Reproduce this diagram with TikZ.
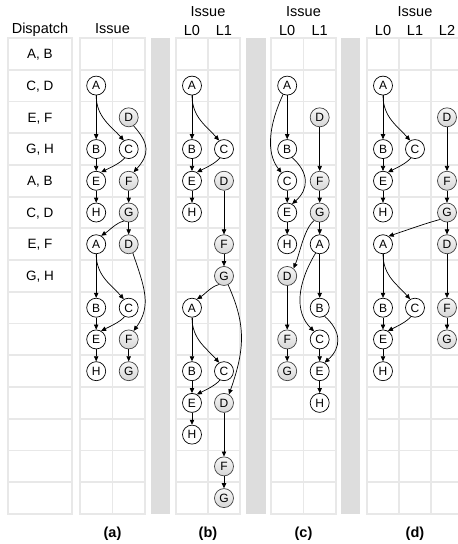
\documentclass[tikz,border=0pt]{standalone}
\usepackage{fontspec}
\setmainfont{Liberation Sans}
\usetikzlibrary{arrows.meta}
\def\XaO{96.2}\def\XaI{128.7}
\def\XbO{192}\def\XbI{224}
\def\XcO{287.2}\def\XcI{319.7}
\def\XdO{383}\def\XdI{415}\def\XdII{447}
\def\RY#1{(-38-31.73*(#1+0.5))}
\newcommand\blockgrid[3]{%
  \fill[white] (#1,-38) rectangle (#2,-514);
  \foreach \k in {1,...,14} \draw[gridln] (#1,{-38-31.73*\k}) -- (#2,{-38-31.73*\k});
  \foreach \d in {#3} \draw[gridln] (\d,-38) -- (\d,-514);
  \draw[gridln] (#1,-38) rectangle (#2,-514);
}
\begin{document}
\begin{tikzpicture}[x=1pt,y=1pt,
  wn/.style={circle,draw=black,line width=0.7pt,fill=white,minimum size=19pt,inner sep=0pt,text height=8.6pt,text depth=0pt,font=\fontsize{12}{12}\selectfont},
  gn/.style={wn,draw=black!75,top color=gray!6,bottom color=gray!32},
  ed/.style={line width=0.7pt,-{Triangle[length=5pt,width=4.4pt]}},
  gridln/.style={draw={rgb,255:red,232;green,232;blue,232},line width=1.8pt},
  sepbar/.style={fill={rgb,255:red,221;green,221;blue,221}},
  hdr/.style={font=\fontsize{14.5}{14.5}\selectfont,anchor=base},
  lab/.style={font=\fontsize{14.5}{14.5}\selectfont\bfseries,anchor=base},
  dl/.style={font=\fontsize{13.5}{13.5}\selectfont,anchor=base}]
\useasboundingbox (0,0) rectangle (458,-544);
\clip (0,0) rectangle (458,-544);
% grids
\fill[white] (8,-38) rectangle (72,-514);
\foreach \k in {1,...,14} \draw[gridln] (8,{-38-31.73*\k}) -- (72,{-38-31.73*\k});
\draw[gridln] (8,-38) rectangle (72,-514);
\blockgrid{80}{145}{112.5}
\blockgrid{176}{240}{208}
\blockgrid{271}{336}{303.5}
\blockgrid{367}{463}{399,431}
\fill[sepbar] (151,-38) rectangle (170,-514);
\fill[sepbar] (246,-38) rectangle (266,-514);
\fill[sepbar] (341,-38) rectangle (360,-514);
% headers
\node[hdr] (hdisp) at (40,-33) {Dispatch};
\node[hdr] (hissa) at (112.5,-33) {Issue};
\node[hdr] (hissb) at (208,-16.7) {Issue};
\node[hdr] (hbl0) at (\XbO,-35.5) {L0};
\node[hdr] (hbl1) at (\XbI,-35.5) {L1};
\node[hdr] (hissc) at (303.5,-16.7) {Issue};
\node[hdr] (hcl0) at (\XcO,-35.5) {L0};
\node[hdr] (hcl1) at (\XcI,-35.5) {L1};
\node[hdr] (hissd) at (415,-16.7) {Issue};
\node[hdr] (hdl0) at (\XdO,-35.5) {L0};
\node[hdr] (hdl1) at (\XdI,-35.5) {L1};
\node[hdr] (hdl2) at (\XdII,-35.5) {L2};
% captions
\node[lab] (capa) at (112.5,-537) {(a)};
\node[lab] (capb) at (208,-537) {(b)};
\node[lab] (capc) at (303.5,-537) {(c)};
\node[lab] (capd) at (415,-537) {(d)};
% dispatch labels
\node[dl] (d0) at (40,{\RY{0}-4.7}) {A, B};
\node[dl] (d1) at (40,{\RY{1}-4.7}) {C, D};
\node[dl] (d2) at (40,{\RY{2}-4.7}) {E, F};
\node[dl] (d3) at (40,{\RY{3}-4.7}) {G, H};
\node[dl] (d4) at (40,{\RY{4}-4.7}) {A, B};
\node[dl] (d5) at (40,{\RY{5}-4.7}) {C, D};
\node[dl] (d6) at (40,{\RY{6}-4.7}) {E, F};
\node[dl] (d7) at (40,{\RY{7}-4.7}) {G, H};
% ---------- panel (a)
\node[wn] (aA1) at (\XaO,{\RY{1}}) {A};
\node[gn] (aD1) at (\XaI,{\RY{2}}) {D};
\node[wn] (aB1) at (\XaO,{\RY{3}}) {B};
\node[wn] (aC1) at (\XaI,{\RY{3}}) {C};
\node[wn] (aE1) at (\XaO,{\RY{4}}) {E};
\node[gn] (aF1) at (\XaI,{\RY{4}}) {F};
\node[wn] (aH1) at (\XaO,{\RY{5}}) {H};
\node[gn] (aG1) at (\XaI,{\RY{5}}) {G};
\node[wn] (aA2) at (\XaO,{\RY{6}}) {A};
\node[gn] (aD2) at (\XaI,{\RY{6}}) {D};
\node[wn] (aB2) at (\XaO,{\RY{8}}) {B};
\node[wn] (aC2) at (\XaI,{\RY{8}}) {C};
\node[wn] (aE2) at (\XaO,{\RY{9}}) {E};
\node[gn] (aF2) at (\XaI,{\RY{9}}) {F};
\node[wn] (aH2) at (\XaO,{\RY{10}}) {H};
\node[gn] (aG2) at (\XaI,{\RY{10}}) {G};
\draw[ed] (aA1) -- (aB1);
\draw[ed] (aA1.south) .. controls +(0,-22) and +(-12,14) .. (aC1.120);
\draw[ed] (aD1.-60) .. controls +(16,-18) and +(16,18) .. (aF1.60);
\draw[ed] (aB1) -- (aE1);
\draw[ed] (aC1.-115) .. controls +(-4,-5) and +(10,5) .. (aE1.60);
\draw[ed] (aE1) -- (aH1);
\draw[ed] (aF1) -- (aG1);
\draw[ed] (aG1.-120) .. controls +(-8,-2) and +(8,5) .. (aA2.60);
\draw[ed] (aG1) -- (aD2);
\draw[ed] (aA2) -- (aB2);
\draw[ed] (aA2.south) .. controls +(0,-22) and +(-12,14) .. (aC2.120);
\draw[ed] (aD2.-65) .. controls +(12,-35) and +(18,25) .. (aF2.60);
\draw[ed] (aB2) -- (aE2);
\draw[ed] (aC2.-115) .. controls +(-4,-5) and +(10,5) .. (aE2.60);
\draw[ed] (aE2) -- (aH2);
\draw[ed] (aF2) -- (aG2);
% ---------- panel (b)
\node[wn] (bA1) at (\XbO,{\RY{1}}) {A};
\node[wn] (bB1) at (\XbO,{\RY{3}}) {B};
\node[wn] (bC1) at (\XbI,{\RY{3}}) {C};
\node[wn] (bE1) at (\XbO,{\RY{4}}) {E};
\node[gn] (bD1) at (\XbI,{\RY{4}}) {D};
\node[wn] (bH1) at (\XbO,{\RY{5}}) {H};
\node[gn] (bF1) at (\XbI,{\RY{6}}) {F};
\node[gn] (bG1) at (\XbI,{\RY{7}}) {G};
\node[wn] (bA2) at (\XbO,{\RY{8}}) {A};
\node[wn] (bB2) at (\XbO,{\RY{10}}) {B};
\node[wn] (bC2) at (\XbI,{\RY{10}}) {C};
\node[wn] (bE2) at (\XbO,{\RY{11}}) {E};
\node[gn] (bD2) at (\XbI,{\RY{11}}) {D};
\node[wn] (bH2) at (\XbO,{\RY{12}}) {H};
\node[gn] (bF2) at (\XbI,{\RY{13}}) {F};
\node[gn] (bG2) at (\XbI,{\RY{14}}) {G};
\draw[ed] (bA1) -- (bB1);
\draw[ed] (bA1.south) .. controls +(0,-22) and +(-12,14) .. (bC1.120);
\draw[ed] (bB1) -- (bE1);
\draw[ed] (bC1.-115) .. controls +(-4,-5) and +(10,5) .. (bE1.60);
\draw[ed] (bE1) -- (bH1);
\draw[ed] (bD1) -- (bF1);
\draw[ed] (bF1) -- (bG1);
\draw[ed] (bG1.-120) .. controls +(-8,-2) and +(8,5) .. (bA2.60);
\draw[ed] (bG1.-65) .. controls +(18,-40) and +(16,45) .. (bD2.60);
\draw[ed] (bA2) -- (bB2);
\draw[ed] (bA2.south) .. controls +(0,-22) and +(-12,14) .. (bC2.120);
\draw[ed] (bB2) -- (bE2);
\draw[ed] (bC2.-115) .. controls +(-4,-5) and +(10,5) .. (bE2.60);
\draw[ed] (bE2) -- (bH2);
\draw[ed] (bD2) -- (bF2);
\draw[ed] (bF2) -- (bG2);
% ---------- panel (c)
\node[wn] (cA1) at (\XcO,{\RY{1}}) {A};
\node[gn] (cD1) at (\XcI,{\RY{2}}) {D};
\node[wn] (cB1) at (\XcO,{\RY{3}}) {B};
\node[wn] (cC1) at (\XcO,{\RY{4}}) {C};
\node[gn] (cF1) at (\XcI,{\RY{4}}) {F};
\node[wn] (cE1) at (\XcO,{\RY{5}}) {E};
\node[gn] (cG1) at (\XcI,{\RY{5}}) {G};
\node[wn] (cH1) at (\XcO,{\RY{6}}) {H};
\node[wn] (cA2) at (\XcI,{\RY{6}}) {A};
\node[gn] (cD2) at (\XcO,{\RY{7}}) {D};
\node[wn] (cB2) at (\XcI,{\RY{8}}) {B};
\node[gn] (cF2) at (\XcO,{\RY{9}}) {F};
\node[wn] (cC2) at (\XcI,{\RY{9}}) {C};
\node[gn] (cG2) at (\XcO,{\RY{10}}) {G};
\node[wn] (cE2) at (\XcI,{\RY{10}}) {E};
\node[wn] (cH2) at (\XcI,{\RY{11}}) {H};
\draw[ed] (cA1) -- (cB1);
\draw[ed] (cA1.-115) .. controls +(-14,-30) and +(-16,20) .. (cC1.125);
\draw[ed] (cB1.-60) .. controls +(17,-15) and +(17,15) .. (cE1.60);
\draw[ed] (cC1) -- (cE1);
\draw[ed] (cE1) -- (cH1);
\draw[ed] (cD1) -- (cF1);
\draw[ed] (cF1) -- (cG1);
\draw[ed] (cG1) -- (cA2);
\draw[ed] (cG1.-125) .. controls +(-10,-8) and +(6,14) .. (cD2.50);
\draw[ed] (cA2) -- (cB2);
\draw[ed] (cA2.-115) .. controls +(-18,-30) and +(-20,20) .. (cC2.125);
\draw[ed] (cB2.-60) .. controls +(17,-15) and +(17,15) .. (cE2.60);
\draw[ed] (cC2) -- (cE2);
\draw[ed] (cE2) -- (cH2);
\draw[ed] (cD2) -- (cF2);
\draw[ed] (cF2) -- (cG2);
% ---------- panel (d)
\node[wn] (dA1) at (\XdO,{\RY{1}}) {A};
\node[gn] (dD1) at (\XdII,{\RY{2}}) {D};
\node[wn] (dB1) at (\XdO,{\RY{3}}) {B};
\node[wn] (dC1) at (\XdI,{\RY{3}}) {C};
\node[wn] (dE1) at (\XdO,{\RY{4}}) {E};
\node[gn] (dF1) at (\XdII,{\RY{4}}) {F};
\node[wn] (dH1) at (\XdO,{\RY{5}}) {H};
\node[gn] (dG1) at (\XdII,{\RY{5}}) {G};
\node[wn] (dA2) at (\XdO,{\RY{6}}) {A};
\node[gn] (dD2) at (\XdII,{\RY{6}}) {D};
\node[wn] (dB2) at (\XdO,{\RY{8}}) {B};
\node[wn] (dC2) at (\XdI,{\RY{8}}) {C};
\node[gn] (dF2) at (\XdII,{\RY{8}}) {F};
\node[wn] (dE2) at (\XdO,{\RY{9}}) {E};
\node[gn] (dG2) at (\XdII,{\RY{9}}) {G};
\node[wn] (dH2) at (\XdO,{\RY{10}}) {H};
\draw[ed] (dA1) -- (dB1);
\draw[ed] (dA1.south) .. controls +(0,-22) and +(-12,14) .. (dC1.120);
\draw[ed] (dB1) -- (dE1);
\draw[ed] (dC1.-115) .. controls +(-4,-5) and +(10,5) .. (dE1.60);
\draw[ed] (dE1) -- (dH1);
\draw[ed] (dD1) -- (dF1);
\draw[ed] (dF1) -- (dG1);
\draw[ed] (dG1.-135) .. controls +(-15,-4) and +(18,6) .. (dA2.55);
\draw[ed] (dG1) -- (dD2);
\draw[ed] (dA2) -- (dB2);
\draw[ed] (dA2.south) .. controls +(0,-22) and +(-12,14) .. (dC2.120);
\draw[ed] (dB2) -- (dE2);
\draw[ed] (dC2.-115) .. controls +(-4,-5) and +(10,5) .. (dE2.60);
\draw[ed] (dE2) -- (dH2);
\draw[ed] (dD2) -- (dF2);
\draw[ed] (dF2) -- (dG2);
\end{tikzpicture}
\end{document}
